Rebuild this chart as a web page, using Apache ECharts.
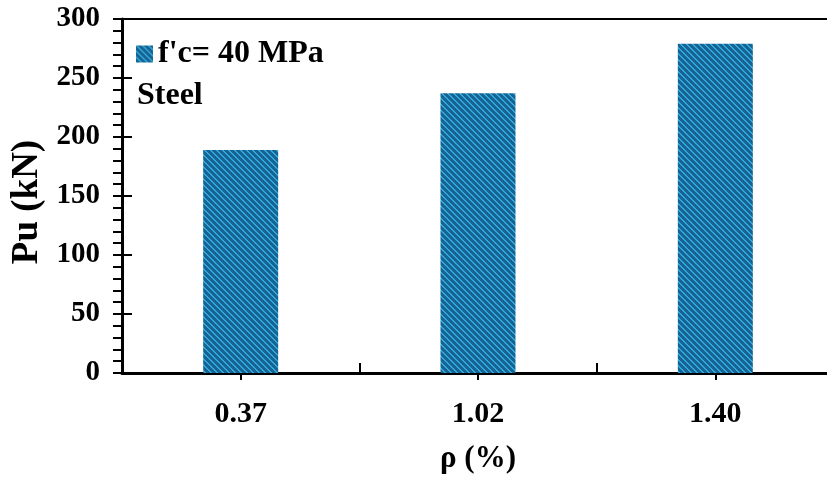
<!DOCTYPE html>
<html>
<head>
<meta charset="utf-8">
<script src="https://cdn.jsdelivr.net/npm/echarts@6/dist/echarts.min.js"></script>
<style>html,body{margin:0;padding:0;background:#fff}#c{width:827px;height:480px}</style>
</head>
<body>
<div id="c"></div>
<script>
const categories = ['0.37', '1.02', '1.40'];
const puValues = [189, 237, 279];
const seriesName = "f'c= 40 MPa";
const noteText = 'Steel';
const xAxisName = 'ρ (%)';
const yAxisName = 'Pu (kN)';

function makePattern() {
  const n = 6;
  const cv = document.createElement('canvas');
  cv.width = n; cv.height = n;
  const ctx = cv.getContext('2d');
  ctx.fillStyle = '#196390';
  ctx.fillRect(0, 0, n, n);
  ctx.fillStyle = '#2ea8e0';
  for (let y = 0; y < n; y++) {
    for (let x = 0; x < n; x++) {
      const d = ((x - y) % n + n) % n;
      if (d === 0 || d === 1) ctx.fillRect(x, y, 1, 1);
    }
  }
  return cv;
}
const pattern = { image: makePattern(), repeat: 'repeat' };
const font = 'Liberation Serif';

const chart = echarts.init(document.getElementById('c'), null, { renderer: 'canvas' });
chart.setOption({
  animation: false,
  backgroundColor: '#fff',
  grid: { left: 122, width: 712, top: 19, height: 354, outerBoundsMode: 'none', containLabel: false,
          show: true, borderColor: '#000', borderWidth: 2, backgroundColor: 'transparent' },
  legend: {
    left: 131, top: 33, icon: 'rect', itemWidth: 17, itemHeight: 17, itemGap: 8,
    textStyle: { fontFamily: font, fontWeight: 'bold', fontSize: 32, color: '#000' },
    data: [seriesName]
  },
  graphic: [{
    type: 'text', left: 137, top: 80,
    style: { text: noteText, font: 'bold 32px "Liberation Serif"', fill: '#000' }
  }],
  xAxis: [{
    type: 'category', data: categories, position: 'bottom',
    name: xAxisName, nameLocation: 'middle', nameGap: 70,
    nameTextStyle: { fontFamily: font, fontWeight: 'bold', fontSize: 31, color: '#000' },
    axisLine: { lineStyle: { color: '#000', width: 3 } },
    axisTick: { show: true, alignWithLabel: true, inside: false, length: 7, lineStyle: { color: '#000', width: 2 } },
    axisLabel: { margin: 26, fontFamily: font, fontWeight: 'bold', fontSize: 30, color: '#000' },
    splitLine: { show: false }
  }, {
    type: 'category', data: categories, position: 'bottom',
    axisLine: { show: false },
    axisTick: { show: true, inside: true, length: 10, lineStyle: { color: '#000', width: 2 } },
    axisLabel: { show: false },
    splitLine: { show: false }
  }],
  yAxis: [{
    type: 'value', min: 0, max: 300, interval: 50,
    name: yAxisName, nameLocation: 'middle', nameGap: 76,
    nameTextStyle: { fontFamily: font, fontWeight: 'bold', fontSize: 37, color: '#000', padding: [0, 12, 0, 0] },
    axisLine: { show: true, lineStyle: { color: '#000', width: 3 } },
    axisTick: { show: true, inside: false, length: 9, lineStyle: { color: '#000', width: 2 } },
    minorTick: { show: true, splitNumber: 5, length: 9, lineStyle: { color: '#000', width: 2 } },
    axisLabel: { margin: 22, fontFamily: font, fontWeight: 'bold', fontSize: 29, color: '#000' },
    splitLine: { show: false }
  }, {
    type: 'value', min: 0, max: 300, interval: 50, position: 'left',
    axisLine: { show: false },
    axisTick: { show: true, inside: true, length: 10, lineStyle: { color: '#000', width: 2 } },
    axisLabel: { show: false },
    splitLine: { show: false }
  }],
  series: [{
    name: seriesName, type: 'bar', data: puValues, barWidth: 75,
    xAxisIndex: 0, yAxisIndex: 0,
    itemStyle: { color: pattern }
  }]
});
</script>
</body>
</html>
